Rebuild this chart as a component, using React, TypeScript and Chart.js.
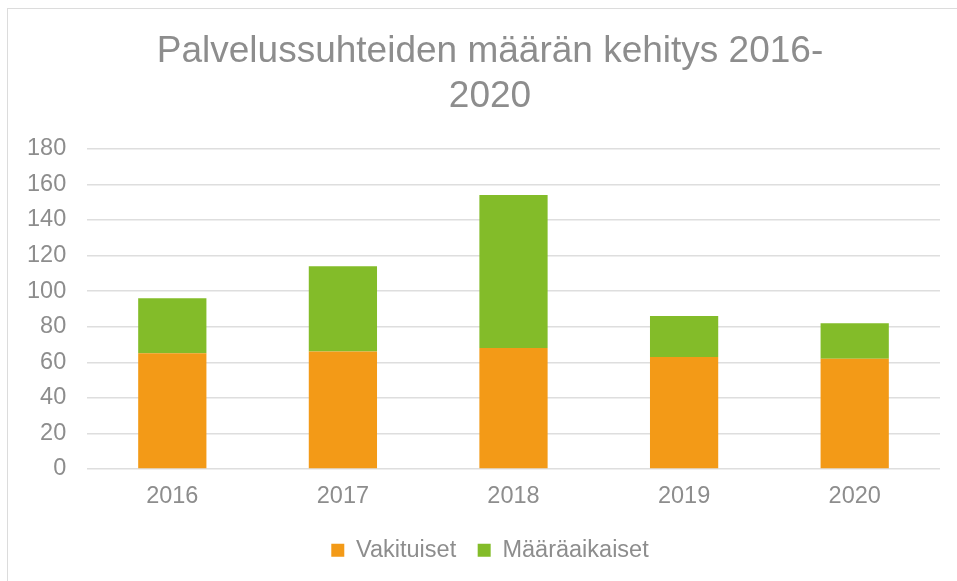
import React, { useEffect, useRef } from "react";
import { Chart, registerables } from "chart.js";

Chart.register(...registerables);

const categories = ["2016", "2017", "2018", "2019", "2020"];
const vakituiset = [65, 66, 68, 63, 62];
const maaraaikaiset = [31, 48, 86, 23, 20];
const titleLines = ["Palvelussuhteiden määrän kehitys 2016-", "2020"];
const yMin = 0;
const yMax = 180;
const yStep = 20;

const FONT = "'Liberation Sans', Arial, sans-serif";
const TEXT = "#8d8d8d";

export default function App() {
  const ref = useRef<HTMLCanvasElement | null>(null);

  useEffect(() => {
    if (!ref.current) return;
    const chart = new Chart(ref.current, {
      type: "bar",
      data: {
        labels: categories,
        datasets: [
          {
            label: "Vakituiset",
            data: vakituiset,
            backgroundColor: "#F39A17",
            borderWidth: 0,
            barPercentage: 0.4,
            categoryPercentage: 1,
          },
          {
            label: "Määräaikaiset",
            data: maaraaikaiset,
            backgroundColor: "#83BC29",
            borderWidth: 0,
            barPercentage: 0.4,
            categoryPercentage: 1,
          },
        ],
      },
      options: {
        responsive: false,
        animation: false,
        layout: { padding: { left: 40, right: 17, top: 0, bottom: 9 } },
        plugins: {
          title: {
            display: true,
            text: titleLines,
            color: TEXT,
            font: { family: FONT, size: 37, weight: "normal", lineHeight: 1.2 },
            padding: { top: 30, bottom: 30 },
          },
          legend: {
            position: "bottom",
            labels: {
              color: TEXT,
              font: { family: FONT, size: 23.5 },
              boxWidth: 13,
              boxHeight: 13,
              padding: 21.5,
            },
          },
          tooltip: { enabled: false },
        },
        scales: {
          x: {
            stacked: true,
            grid: { display: false },
            border: { display: false },
            ticks: {
              color: TEXT,
              font: { family: FONT, size: 23.5 },
              padding: 5,
              maxRotation: 0,
            },
            afterFit: (scale: any) => {
              scale.height = 48;
            },
          },
          y: {
            stacked: true,
            min: yMin,
            max: yMax,
            grid: { color: "#dedede", lineWidth: 1.5, drawTicks: false },
            border: { display: false },
            ticks: {
              stepSize: yStep,
              color: TEXT,
              font: { family: FONT, size: 23.5 },
              mirror: true,
              crossAlign: "far",
              padding: -60,
            },
            afterFit: (scale: any) => {
              scale.width = 47;
            },
          },
        },
      },
    });
    return () => chart.destroy();
  }, []);

  return (
    <div
      style={{
        position: "fixed",
        left: 0,
        top: 0,
        width: 957,
        height: 581,
        background: "#fff",
        overflow: "hidden",
      }}
    >
      <div
        style={{
          position: "absolute",
          left: 7,
          top: 8,
          width: 1000,
          height: 700,
          border: "1.5px solid #dcdcdc",
        }}
      />
      <canvas
        ref={ref}
        width={957}
        height={581}
        style={{ position: "absolute", left: 0, top: 0 }}
      />
    </div>
  );
}
